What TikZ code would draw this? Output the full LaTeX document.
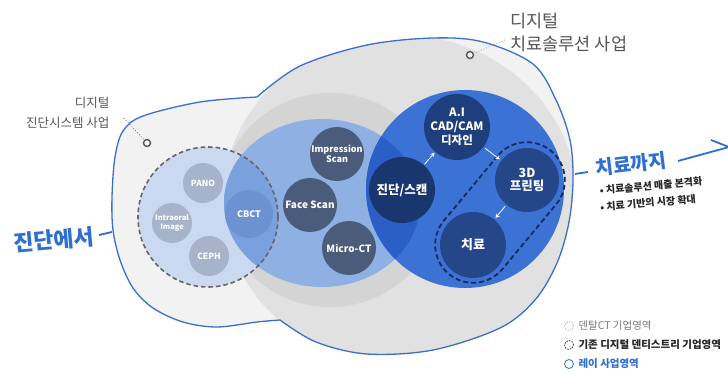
\documentclass[tikz,border=0pt]{standalone}
\usepackage{fontspec}
\setmainfont{Noto Sans CJK KR}
\usetikzlibrary{arrows.meta}
\definecolor{lobe}{HTML}{F2F2F2}
\definecolor{bigc}{HTML}{E1E1E1}
\definecolor{midg}{HTML}{D4D4D4}
\definecolor{dashfill}{HTML}{CBD9F0}
\definecolor{blobc}{HTML}{8EB0E3}
\definecolor{blobov}{HTML}{7AA0DD}
\definecolor{bluec}{HTML}{3B72D4}
\definecolor{blueov}{HTML}{2C5FC6}
\definecolor{outl}{HTML}{3A6FCB}
\definecolor{navy}{HTML}{1F3E7D}
\definecolor{navyd}{HTML}{1A366F}
\definecolor{navyl}{HTML}{25478A}
\definecolor{slate}{HTML}{4B5C7A}
\definecolor{palegb}{HTML}{A6B3C9}
\definecolor{cbctc}{HTML}{6C92D2}
\definecolor{txtblue}{HTML}{2E6FD2}
\definecolor{capc}{HTML}{142A5C}
\definecolor{labg}{HTML}{555555}
\definecolor{dashg}{HTML}{666666}
\definecolor{pinkdot}{HTML}{E08A8A}
\begin{document}
\begin{tikzpicture}[x=1pt,y=-1pt,
  palec/.style={circle, fill=palegb, text=white, inner sep=0pt, minimum size=40pt, align=center, font=\bfseries\fontsize{8.5}{9}\selectfont},
  slatec/.style={circle, fill=slate, text=white, inner sep=0pt, minimum size=54pt, align=center, font=\bfseries\fontsize{9.5}{11}\selectfont},
  navyc/.style={circle, fill=navy, text=white, inner sep=0pt, minimum size=66pt, align=center, font=\bfseries\fontsize{12}{14}\selectfont},
  wa/.style={white, line width=0.8pt, -{Stealth[length=4pt,width=4.5pt]}},
  ring/.style={circle, draw=labg, line width=1.4pt, fill=white!90!gray, minimum size=7pt, inner sep=0pt},
  legicon/.style={circle, minimum size=9pt, inner sep=0pt, line width=0.8pt},
  legtext/.style={anchor=west, font=\fontsize{10.5}{12}\selectfont}]
\def\rayOutline{plot[smooth, tension=0.55] coordinates {(257,97) (300,66) (367,45) (433,38) (483,42) (533,64) (556,100) (570,140) (573,180) (569,222) (557,263) (535,300) (500,328) (433,350) (367,354) (316,342) (280,320)} -- plot[smooth, tension=0.55] coordinates {(280,320) (257,322) (217,327) (183,322) (153,308) (133,288) (120,260) (113,230) (112,197) (115,157) (123,131) (143,116) (200,102) (257,97)} -- cycle}
\fill[white] (0,0) rectangle (728,374);
\useasboundingbox (0,0) rectangle (728,374);
% regions
\fill[lobe] \rayOutline;
\begin{scope}
  \clip \rayOutline;
  \fill[bigc] (400,200) ellipse [x radius=177, y radius=165];
  \begin{scope}
    \clip (400,200) ellipse [x radius=177, y radius=165];
    \fill[midg] (330,200) ellipse [x radius=110, y radius=107];
  \end{scope}
\end{scope}
\fill[dashfill] (208,217) circle [radius=70];
\fill[blobc] (322,203) ellipse [x radius=98, y radius=84];
\begin{scope}
  \clip (208,217) circle [radius=70];
  \fill[blobov] (322,203) ellipse [x radius=98, y radius=84];
\end{scope}
\fill[bluec] (465,189) circle [radius=99];
\begin{scope}
  \clip (322,203) ellipse [x radius=98, y radius=84];
  \fill[blueov] (465,189) circle [radius=99];
\end{scope}
\draw[outl, line width=1.3pt] \rayOutline;
\draw[dashg, line width=1.6pt, dash pattern=on 4.5pt off 3pt] (208,217) circle [radius=70];
% circles
\node[palec] (pano) at (203,183) {PANO};
\node[palec, font=\bfseries\fontsize{7.5}{8.5}\selectfont] (intra) at (172,223) {Intraoral\\Image};
\node[palec] (ceph) at (209,256) {CEPH};
\node[palec, fill=cbctc, minimum size=48pt, font=\bfseries\fontsize{9}{10}\selectfont] (cbct) at (249,214) {CBCT};
\node[slatec, font=\bfseries\fontsize{9}{10.5}\selectfont] (imp) at (337,154) {Impression\\Scan};
\node[slatec, font=\bfseries\fontsize{10}{11}\selectfont] (face) at (310,205) {Face Scan};
\node[slatec, font=\bfseries\fontsize{10}{11}\selectfont] (micro) at (349,248) {Micro-CT};
\node[navyc, font=\bfseries\fontsize{11.5}{14}\selectfont] (ai) at (457,127) {A.I\\CAD/CAM\\디자인};
\node[navyc, fill=navyd, font=\bfseries\fontsize{12.5}{14}\selectfont] (ds) at (402,190) {진단/스캔};
\node[navyc, fill=navyl, minimum size=64pt, font=\bfseries\fontsize{12.5}{13.5}\selectfont] (p3d) at (527,180) {3D\\프린팅};
\node[navyc, fill=navyl, font=\bfseries\fontsize{13}{14}\selectfont] (tx) at (473,245) {치료};
\node[draw=capc, line width=1.8pt, dash pattern=on 5pt off 3pt, rectangle, rounded corners=38pt, minimum width=160pt, minimum height=76pt, rotate=50.3, inner sep=0pt] (cap) at (500,212.5) {};
\draw[wa, shorten <=1pt, shorten >=1pt] (ds) -- (ai);
\draw[wa, shorten <=2pt, shorten >=2pt] (ai) -- (p3d);
\draw[wa, shorten <=2pt, shorten >=2pt] (p3d) -- (tx);
% labels
\node[anchor=east, align=right, text=labg, font=\fontsize{12.5}{20}\selectfont] (lab1) at (113,113) {디지털\\진단시스템 사업};
\node[ring] (r1) at (147,143) {};
\coordinate (l1) at (124,118);
\draw[dashg, dotted, line width=0.8pt] (l1) -- (r1);
\node[anchor=west, align=left, text=labg, font=\fontsize{17.5}{23}\selectfont] (lab2) at (507,32.5) {디지털\\치료솔루션 사업};
\node[ring] (r2) at (470,55) {};
\coordinate (l2) at (505,40);
\draw[pinkdot, dotted, line width=0.8pt] (l2) -- (r2);
\node[text=txtblue, inner sep=0pt, font=\bfseries\fontsize{22}{22}\selectfont, rotate=5] (from) at (54,240) {진단에서};
\coordinate (d1a) at (99,235);
\coordinate (d1b) at (112,232);
\draw[txtblue, line width=1.8pt] (d1a) -- (d1b);
\node[text=txtblue, inner sep=0pt, font=\bfseries\fontsize{19.5}{20}\selectfont, rotate=7] (to) at (631,164) {치료까지};
\coordinate (d2a) at (575,174);
\coordinate (d2b) at (588,172);
\draw[txtblue, line width=1.8pt] (d2a) -- (d2b);
\coordinate (a1) at (678,161);
\coordinate (tip) at (729,147);
\coordinate (barb) at (711,140);
\draw[txtblue, line width=1.8pt] (a1) -- (tip) -- (barb);
\node[rotate=5.2, inner sep=0pt, text=black!85, font=\bfseries\fontsize{10}{12}\selectfont] (b1) at (651,186) {• 치료솔루션 매출 본격화};
\node[rotate=5.2, inner sep=0pt, text=black!85, font=\bfseries\fontsize{10}{12}\selectfont] (b2) at (648,203) {• 치료 기반의 시장 확대};
% legend
\node[legicon, draw=gray!55, dash pattern=on 1.5pt off 1.2pt] (i1) at (569,326) {};
\node[legtext, text=gray!95!black] (t1) at (575,326) {덴탈CT 기업영역};
\node[legicon, draw=black!80, dash pattern=on 1.5pt off 1.2pt] (i2) at (569,345) {};
\node[legtext, text=black!85, font=\bfseries\fontsize{10.5}{12}\selectfont] (t2) at (575,345) {기존 디지털 덴티스트리 기업영역};
\node[legicon, draw=txtblue] (i3) at (569,364) {};
\node[legtext, text=txtblue, font=\bfseries\fontsize{10.5}{12}\selectfont] (t3) at (575,364) {레이 사업영역};
\end{tikzpicture}
\end{document}
